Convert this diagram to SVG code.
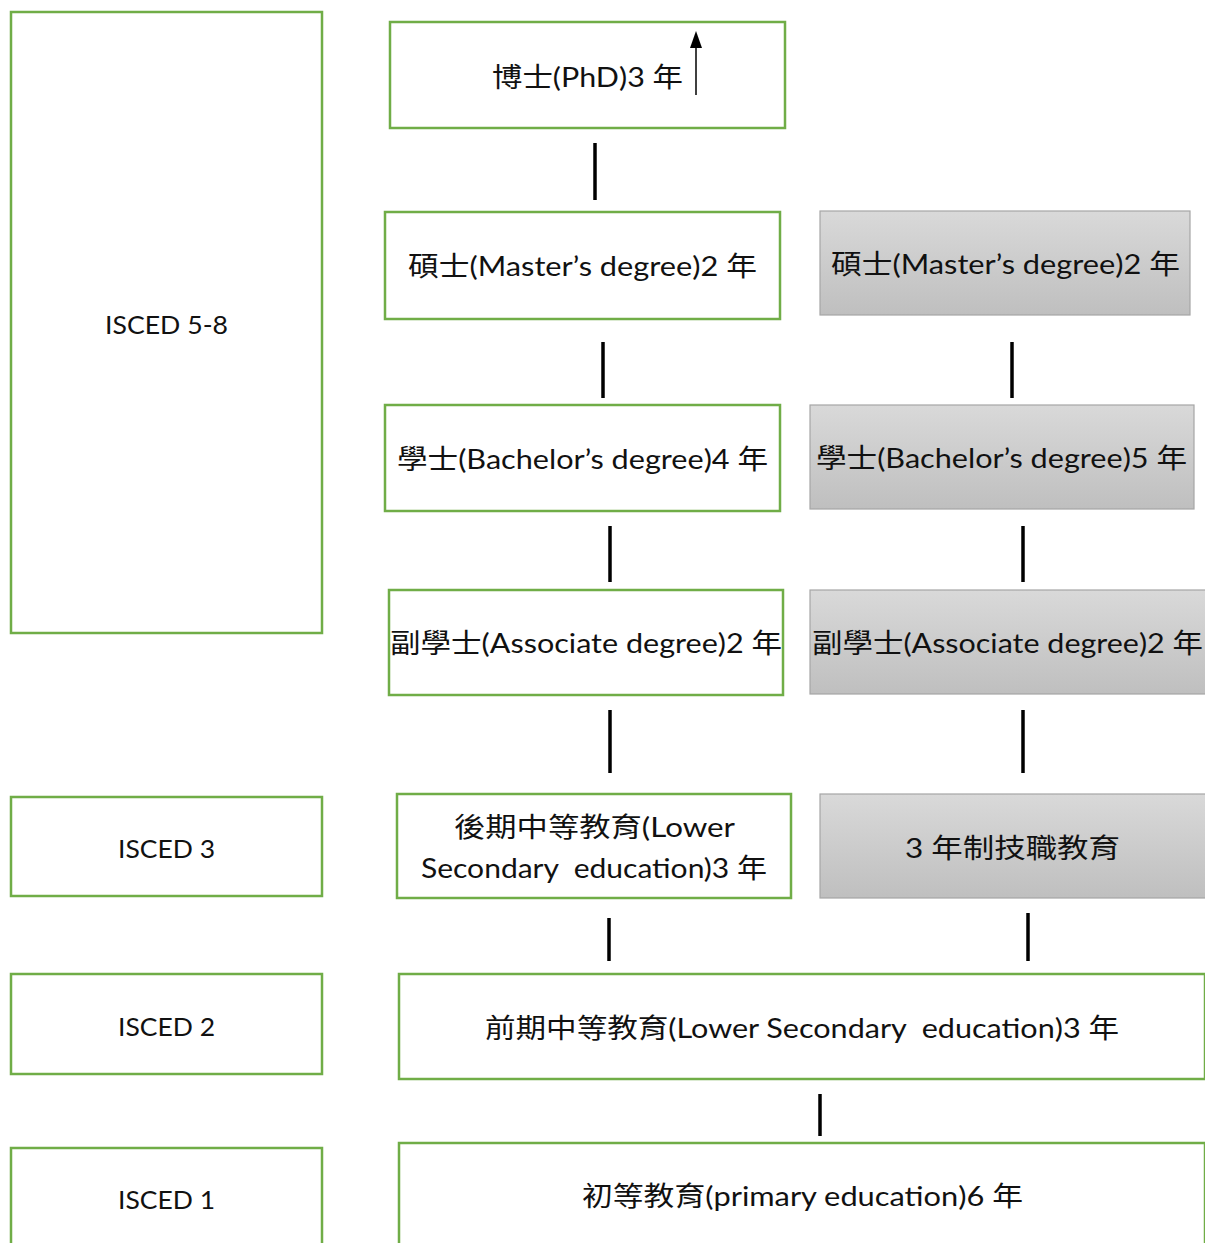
<svg xmlns="http://www.w3.org/2000/svg" width="1205" height="1243" viewBox="0 0 1205 1243">
<style>
.g{fill:#fff;stroke:#70AD47;stroke-width:2.5}
.s{fill:url(#grey);stroke:#A6A6A6;stroke-width:1.2}
text{font-family:Lato,"Noto Sans CJK TC",sans-serif;font-size:27px;fill:#111;lengthAdjust:spacingAndGlyphs}
.i{font-size:25px}
.c line{stroke:#000;stroke-width:3.5}
</style>
<defs>
<linearGradient id="grey" x1="0" y1="0" x2="0" y2="1">
<stop offset="0" stop-color="#D9D9D9"/>
<stop offset="1" stop-color="#BFBFBF"/>
</linearGradient>
<marker id="ah" markerWidth="8" markerHeight="8" refX="4" refY="8" orient="auto" markerUnits="userSpaceOnUse" viewBox="0 0 8 8">
<path d="M0,8 L4,0 L8,8 Z" fill="#000"/>
</marker>
</defs>

<g id="isced58"><rect class="g" x="11" y="12" width="311" height="621"/><text class="i" x="105" y="334" textLength="123" lengthAdjust="spacingAndGlyphs">ISCED 5-8</text></g>
<g id="isced3"><rect class="g" x="11" y="797" width="311" height="99"/><text class="i" x="118" y="858" textLength="97" lengthAdjust="spacingAndGlyphs">ISCED 3</text></g>
<g id="isced2"><rect class="g" x="11" y="974" width="311" height="100"/><text class="i" x="118" y="1036" textLength="97" lengthAdjust="spacingAndGlyphs">ISCED 2</text></g>
<g id="isced1"><rect class="g" x="11" y="1148" width="311" height="110"/><text class="i" x="118" y="1209" textLength="97" lengthAdjust="spacingAndGlyphs">ISCED 1</text></g>

<g id="phd"><rect class="g" x="390" y="22" width="395" height="106"/><text x="492" y="87" textLength="191" lengthAdjust="spacingAndGlyphs">博士(PhD)3 年</text>
<line x1="696" y1="95" x2="696" y2="40" stroke="#000" stroke-width="1.5"/><path d="M690,48 L696,31 L702,48 Z" fill="#000"/></g>

<g id="master1"><rect class="g" x="385" y="212" width="395" height="107"/><text x="408" y="276" textLength="349" lengthAdjust="spacingAndGlyphs">碩士(Master’s degree)2 年</text></g>
<g id="master2"><rect class="s" x="820" y="211" width="370" height="104"/><text x="831" y="274" textLength="349" lengthAdjust="spacingAndGlyphs">碩士(Master’s degree)2 年</text></g>

<g id="bachelor1"><rect class="g" x="385" y="405" width="395" height="106"/><text x="397" y="469" textLength="371" lengthAdjust="spacingAndGlyphs">學士(Bachelor’s degree)4 年</text></g>
<g id="bachelor2"><rect class="s" x="810" y="405" width="384" height="104"/><text x="816" y="468" textLength="371" lengthAdjust="spacingAndGlyphs">學士(Bachelor’s degree)5 年</text></g>

<g id="assoc1"><rect class="g" x="389" y="590" width="394" height="105"/><text x="390" y="653" textLength="392" lengthAdjust="spacingAndGlyphs">副學士(Associate degree)2 年</text></g>
<g id="assoc2"><rect class="s" x="810" y="590" width="396" height="104"/><text x="812" y="653" textLength="391" lengthAdjust="spacingAndGlyphs">副學士(Associate degree)2 年</text></g>

<g id="upper"><rect class="g" x="397" y="794" width="394" height="104"/><text x="454" y="837" textLength="281" lengthAdjust="spacingAndGlyphs">後期中等教育(Lower</text><text x="421" y="878" textLength="346" lengthAdjust="spacingAndGlyphs" xml:space="preserve">Secondary  education)3 年</text></g>
<g id="vocational"><rect class="s" x="820" y="794" width="386" height="104"/><text x="905" y="858" textLength="215" lengthAdjust="spacingAndGlyphs">3 年制技職教育</text></g>

<g id="lower"><rect class="g" x="399" y="974" width="806" height="105"/><text x="485" y="1038" textLength="634" lengthAdjust="spacingAndGlyphs" xml:space="preserve">前期中等教育(Lower Secondary  education)3 年</text></g>
<g id="primary"><rect class="g" x="399" y="1143" width="806" height="120"/><text x="582" y="1206" textLength="441" lengthAdjust="spacingAndGlyphs">初等教育(primary education)6 年</text></g>

<g id="connectors" class="c">
<line x1="595" y1="143" x2="595" y2="200"/>
<line x1="603" y1="342" x2="603" y2="398"/>
<line x1="1012" y1="342" x2="1012" y2="398"/>
<line x1="610" y1="526" x2="610" y2="582"/>
<line x1="1023" y1="526" x2="1023" y2="582"/>
<line x1="610" y1="710" x2="610" y2="773"/>
<line x1="1023" y1="710" x2="1023" y2="773"/>
<line x1="609" y1="918" x2="609" y2="961"/>
<line x1="1028" y1="913" x2="1028" y2="961"/>
<line x1="820" y1="1094" x2="820" y2="1136"/>
</g>
</svg>
